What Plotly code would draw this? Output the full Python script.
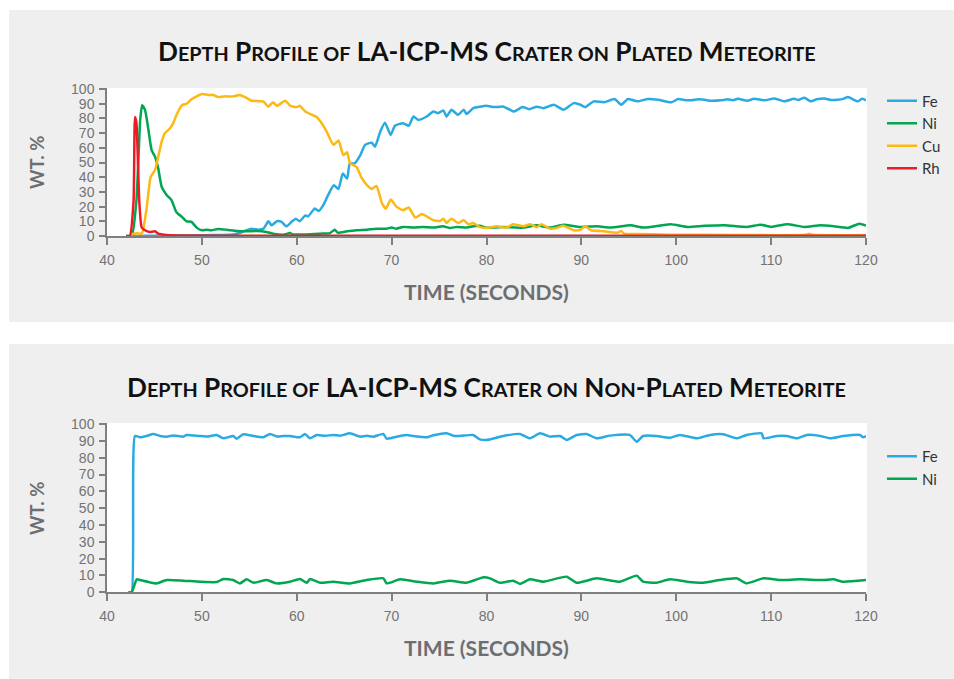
import plotly.graph_objects as go

# ---------------- Panel 1: plated meteorite ----------------
fe1_t = [42.0, 42.5, 43.0, 44.0, 45.0, 46.0, 47.0, 48.0, 49.0, 50.0, 51.0, 52.0, 53.3, 54.0, 54.7, 55.25,
         55.95, 56.5, 57.0, 57.35, 57.9, 58.4, 58.9, 59.5, 59.9, 60.3, 60.9, 61.2, 61.9, 62.3, 62.8, 63.3,
         63.9, 64.4, 64.85, 65.3, 65.6, 66.1, 66.7, 67.2, 67.9, 68.25, 68.8, 69.3, 69.9, 70.35, 71.2, 71.8,
         72.3, 72.8, 73.7, 74.4, 74.9, 75.45, 75.8, 76.3, 77.0, 77.6, 77.9, 78.6, 79.3, 80.0, 80.8, 81.8,
         82.9, 83.8, 84.5, 85.3, 86.0, 87.1, 88.1, 89.2, 89.9, 90.4, 91.3, 92.4, 93.5, 94.2, 94.9, 95.9,
         97.0, 98.1, 99.5, 100.2, 100.8, 101.6, 102.3, 103.0, 103.6, 104.7, 105.4, 106.0, 106.5, 107.5,
         108.2, 109.3, 110.3, 110.8, 111.4, 112.4, 112.9, 113.5, 114.2, 114.8, 115.6, 116.3, 117.0, 117.6,
         118.1, 119.1, 119.6, 120.0]
fe1_v = [0, 0, 0, 0.1, 0.1, 0.2, 0.3, 0.3, 0.4, 0.5, 0.6, 0.7, 1.0, 2.0, 4.0, 5.0,
         4.3, 5.0, 10.0, 7.3, 10.0, 9.6, 6.6, 10.0, 11.8, 10.0, 14.0, 13.4, 18.7, 17.0, 21.0, 27.8,
         34.6, 32.0, 42.6, 39.0, 49.4, 49.4, 55.0, 62.0, 63.5, 60.8, 71.0, 77.0, 68.8, 75.0, 76.8, 75.0,
         81.3, 79.0, 81.3, 84.7, 83.6, 85.4, 81.3, 85.9, 82.5, 85.9, 83.0, 87.0, 88.0, 88.6, 87.7, 88.0,
         84.7, 87.7, 86.3, 88.0, 87.0, 89.3, 85.9, 90.4, 89.3, 87.7, 91.6, 91.0, 93.2, 89.3, 93.2, 91.6,
         93.2, 92.7, 91.0, 93.2, 92.6, 92.3, 93.0, 92.7, 92.0, 92.3, 93.0, 92.4, 93.4, 92.0,
         93.4, 92.3, 93.6, 92.8, 91.6, 93.4, 92.6, 94.0, 91.6, 93.0, 93.6, 92.5, 92.7, 93.3,
         94.5, 91.6, 93.4, 92.3]

ni1_t = [42.0, 42.6, 43.1, 43.5, 43.7, 44.0, 44.35, 44.7, 45.06, 45.4, 45.76, 46.3, 46.8, 47.3, 47.9,
         48.4, 48.9, 49.45, 50.0, 50.5, 51.0, 51.7, 52.6, 53.7, 54.7, 55.8, 56.8, 57.5, 58.6, 59.3, 59.6,
         61.0, 62.45, 63.5, 64.0, 64.3, 65.3, 66.3, 67.4, 68.4, 69.5, 70.0, 70.5, 71.2, 72.3, 73.3, 74.4,
         75.4, 76.1, 76.9, 77.9, 78.6, 79.3, 80.0, 81.8, 83.9, 85.3, 86.7, 88.1, 89.9, 91.7, 93.1, 95.2,
         96.6, 99.4, 101.2, 103.0, 105.1, 107.5, 108.9, 110.0, 111.7, 113.5, 115.2, 116.6, 118.1, 119.3,
         120.0]
ni1_v = [0, 0, 24, 79, 89, 86, 73, 58.5, 54, 46, 33.5, 27.8, 24.4, 16.4, 13,
         10, 9.6, 5.7, 3.9, 4.3, 3.9, 4.8, 4.3, 3.4, 3.2, 3.4, 2.7, 1.6, 0.9, 2.0, 1.1,
         1.1, 1.6, 2.0, 4.3, 2.3, 3.2, 3.9, 4.3, 5.0, 5.0, 5.7, 5.0, 6.2, 5.7, 6.2, 5.7,
         6.6, 5.5, 6.2, 5.7, 6.6, 7.0, 5.7, 6.2, 5.7, 7.3, 5.7, 7.7, 6.2, 6.6, 5.7, 7.3,
         5.7, 8.0, 6.2, 6.9, 7.3, 6.2, 7.7, 6.2, 8.0, 6.2, 7.3, 6.6, 5.5, 8.4,
         7.0]

cu1_t = [42.0, 42.25, 42.8, 43.2, 43.65, 43.8, 44.2, 44.6, 45.06, 45.4, 45.8, 46.1, 46.6, 47.0, 47.3,
         47.9, 48.4, 48.9, 49.45, 50.0, 50.7, 51.2, 51.7, 52.3, 53.3, 54.0, 54.7, 55.25, 56.5, 57.0, 57.5,
         57.9, 58.8, 59.3, 60.0, 60.3, 60.9, 61.6, 62.1, 62.6, 63.15, 63.86, 64.4, 64.9, 65.3, 65.6, 66.3,
         66.8, 67.4, 67.9, 68.4, 69.0, 69.4, 69.9, 70.5, 71.2, 71.8, 72.5, 73.2, 73.9, 74.4, 75.1, 75.45,
         75.8, 76.3, 77.0, 77.6, 78.1, 78.6, 79.3, 80.0, 81.1, 82.1, 82.8, 83.9, 84.6, 85.3, 85.8, 86.7,
         87.4, 88.1, 89.2, 89.9, 90.4, 91.0, 92.4, 93.8, 94.2, 94.5, 95.9, 99.4, 106.5, 113.6, 114.0, 114.4,
         120.0]
cu1_v = [0, 0, 1.5, 1.8, 1.5, 4, 20, 40, 45, 54, 65, 70, 73, 77, 82,
         89, 90, 93, 95, 96.6, 96, 96, 94.5, 95, 95, 96, 94, 92, 91.5, 88, 91,
         88.6, 92, 88.6, 87.7, 88.6, 84.7, 82.5, 81, 77, 71, 62, 65, 55, 57, 49.6, 47,
         40, 34.6, 32, 34, 22, 18.7, 24.8, 20, 17.5, 19.4, 12.5, 15, 12.5, 10.7, 10.2, 11.8,
         8.9, 11.8, 8.9, 10.7, 8, 8.9, 6, 5.5, 6.6, 5.7, 8, 6.6, 8, 6, 8, 5,
         5.5, 7, 3.9, 4.3, 6.6, 3.9, 3.2, 2.3, 3.4, 1.6, 1.4, 0.9, 0.7, 0.8, 1.6, 0.8,
         0.7]

rh1_t = [42.0, 42.4, 42.8, 42.95, 43.1, 43.4, 43.65, 44.0, 44.5, 45.06, 45.4, 46.3, 48.0, 55.0, 70.0, 120.0]
rh1_v = [0, 0, 24, 81, 77, 24, 6, 3.9, 2.7, 3.2, 1.6, 0.7, 0.3, 0.2, 0.2, 0.2]

# ---------------- Panel 2: non-plated meteorite ----------------
fe2_t = [42.25, 42.6, 42.95, 43.48, 44.18, 44.88, 45.59, 46.29, 47.0, 48.05, 48.4, 49.8, 50.7, 51.56,
         52.26, 53.3, 53.67, 54.37, 55.42, 56.48, 57.18, 57.9, 58.59, 59.29, 60.34, 60.87, 61.4, 62.1,
         63.0, 63.86, 64.6, 65.6, 66.67, 67.4, 68.07, 69.13, 69.48, 70.89, 71.6, 72.29, 73.7, 74.4, 75.8,
         76.5, 77.2, 78.6, 79.3, 80.0, 81.77, 83.53, 84.58, 85.64, 86.69, 87.75, 88.45, 89.5, 90.56,
         91.6, 93.0, 95.1, 95.83, 96.5, 97.9, 99.34, 100.4, 102.15, 103.56, 104.96, 106.37, 107.4, 109.0,
         109.2, 110.6, 111.64, 112.7, 113.75, 115.15, 116.2, 117.6, 119.37, 119.7, 120.0]
fe2_v = [0, 0, 92.9, 92.1, 92.9, 94.1, 92.9, 92.5, 93.2, 92.5, 93.5, 92.9, 92.6, 93.5,
         91.5, 92.9, 91.3, 93.9, 92.9, 92.1, 94.1, 92.6, 92.9, 92.9, 92.1, 94.1, 91.5, 93.5,
         93.0, 93.5, 93.0, 94.5, 92.5, 93.0, 92.5, 94.1, 91.3, 92.9, 93.4, 92.9, 92.1, 93.3, 94.5,
         93.0, 92.9, 93.5, 90.9, 90.5, 92.9, 94.1, 91.5, 94.5, 92.5, 92.9, 90.5, 93.5, 94.1,
         91.5, 93.1, 93.5, 89.5, 92.9, 92.9, 91.9, 93.5, 91.5, 93.5, 93.9, 91.5, 93.5, 94.5,
         91.5, 92.9, 92.9, 91.5, 93.5, 92.9, 91.5, 92.9, 93.5, 92.1, 92.9]

ni2_t = [42.25, 42.6, 43.13, 43.48, 44.53, 45.24, 46.29, 48.05, 49.8, 51.56, 52.26, 53.3, 54.0, 54.72,
         55.42, 56.83, 57.88, 59.29, 60.34, 61.05, 61.4, 62.45, 63.86, 65.6, 67.37, 69.13, 69.48, 70.89,
         72.64, 74.4, 76.16, 77.9, 79.3, 79.7, 80.37, 81.42, 82.83, 83.53, 84.58, 86.0, 88.45, 89.5, 91.6,
         94.07, 95.83, 96.5, 97.9, 99.34, 101.1, 102.86, 104.6, 106.37, 107.4, 109.2, 110.9, 113.0, 115.5,
         116.56, 117.6, 120.0]
ni2_v = [0, 0, 7.7, 7.3, 5.9, 5.3, 7.3, 6.9, 6.3, 6.1, 7.9, 7.3, 5.3, 7.7,
         5.7, 7.3, 5.3, 6.3, 7.9, 5.7, 7.9, 5.7, 6.3, 5.3, 7.3, 8.3, 5.3, 7.7,
         6.3, 5.3, 6.9, 5.7, 8.3, 8.9, 8.3, 5.7, 6.9, 5.0, 7.7, 6.3, 9.3, 5.7, 8.3,
         6.3, 9.9, 6.3, 5.7, 7.7, 6.3, 5.7, 7.3, 8.3, 5.3, 8.3, 7.3, 7.7, 7.3,
         7.7, 6.3, 7.3]

x_ticks = [40, 50, 60, 70, 80, 90, 100, 110, 120]
y_ticks = [0, 10, 20, 30, 40, 50, 60, 70, 80, 90, 100]

SC = "<span style='font-size:19.8px'>%s</span>"
title1 = ("D" + SC % "EPTH" + " P" + SC % "ROFILE OF" + " LA-ICP-MS C" + SC % "RATER ON" +
          " P" + SC % "LATED" + " M" + SC % "ETEORITE")
title2 = ("D" + SC % "EPTH" + " P" + SC % "ROFILE OF" + " LA-ICP-MS C" + SC % "RATER ON" +
          " N" + SC % "ON" + "-P" + SC % "LATED" + " M" + SC % "ETEORITE")

COL = {'Fe': '#29abe2', 'Ni': '#00a651', 'Cu': '#fdb913', 'Rh': '#ed1c24'}
W, H = 954, 679

fig = go.Figure()
for name, t, v in [('Fe', fe1_t, fe1_v), ('Ni', ni1_t, ni1_v), ('Cu', cu1_t, cu1_v), ('Rh', rh1_t, rh1_v)]:
    fig.add_trace(go.Scatter(x=t, y=v, mode='lines', name=name, xaxis='x', yaxis='y', legend='legend',
                             line=dict(color=COL[name], width=2.5, shape='spline', smoothing=0.5)))
for name, t, v in [('Fe', fe2_t, fe2_v), ('Ni', ni2_t, ni2_v)]:
    fig.add_trace(go.Scatter(x=t, y=v, mode='lines', name=name, xaxis='x2', yaxis='y2', legend='legend2',
                             line=dict(color=COL[name], width=2.5, shape='spline', smoothing=0.5)))

def px_x(p):
    return p / W

def px_y(p):
    return 1 - p / H

axis_common = dict(showgrid=False, zeroline=False, showline=True, linecolor='#808080', linewidth=1.5,
                   ticks='outside', tickcolor='#808080', tickwidth=1.5,
                   tickfont=dict(family='Liberation Sans, Arial, sans-serif', size=14, color='#737373'))

legend_font = dict(family='Lato, sans-serif', size=15, color='#333333')

fig.update_layout(
    width=W, height=H, margin=dict(l=0, r=0, t=0, b=0, autoexpand=False),
    paper_bgcolor='white', plot_bgcolor='rgba(0,0,0,0)',
    showlegend=True,
    xaxis=dict(domain=[px_x(107), px_x(866)], range=[40, 120], tickvals=x_ticks, ticklen=7,
               ticklabelstandoff=3, anchor='y', **axis_common),
    yaxis=dict(domain=[px_y(236), px_y(88)], range=[0, 100.7], tickvals=y_ticks, ticklen=6,
               ticklabelstandoff=2, anchor='x', **axis_common),
    xaxis2=dict(domain=[px_x(107), px_x(866)], range=[40, 120], tickvals=x_ticks, ticklen=7,
                ticklabelstandoff=3, anchor='y2', **axis_common),
    yaxis2=dict(domain=[px_y(592.3), px_y(423)], range=[0, 100.6], tickvals=y_ticks, ticklen=6,
                ticklabelstandoff=2, anchor='x2', **axis_common),
    legend=dict(x=px_x(882), y=px_y(84.5), xanchor='left', yanchor='top', bgcolor='rgba(0,0,0,0)',
                font=legend_font, tracegroupgap=0),
    legend2=dict(x=px_x(882), y=px_y(440), xanchor='left', yanchor='top', bgcolor='rgba(0,0,0,0)',
                 font=legend_font, tracegroupgap=0),
    shapes=[
        dict(type='rect', xref='paper', yref='paper', x0=px_x(9), x1=1, y0=px_y(322), y1=px_y(10),
             fillcolor='#efefef', line=dict(width=0), layer='below'),
        dict(type='rect', xref='paper', yref='paper', x0=px_x(9), x1=1, y0=0, y1=px_y(344),
             fillcolor='#efefef', line=dict(width=0), layer='below'),
        dict(type='rect', xref='paper', yref='paper', x0=px_x(107), x1=px_x(867), y0=px_y(236), y1=px_y(88),
             fillcolor='white', line=dict(width=0), layer='below'),
        dict(type='rect', xref='paper', yref='paper', x0=px_x(107), x1=px_x(867), y0=px_y(592.3), y1=px_y(423),
             fillcolor='white', line=dict(width=0), layer='below'),
    ],
    annotations=[
        dict(text='<b>' + title1 + '</b>', x=px_x(486.5), y=px_y(51), xref='paper', yref='paper',
             xanchor='center', yanchor='middle', showarrow=False,
             font=dict(family='Lato, sans-serif', size=26.2, color='#111111')),
        dict(text='<b>' + title2 + '</b>', x=px_x(486.5), y=px_y(387), xref='paper', yref='paper',
             xanchor='center', yanchor='middle', showarrow=False,
             font=dict(family='Lato, sans-serif', size=26.2, color='#111111')),
        dict(text='<b>WT. %</b>', x=px_x(37), y=px_y(163), xref='paper', yref='paper', textangle=-90,
             xanchor='center', yanchor='middle', showarrow=False,
             font=dict(family='Lato, sans-serif', size=18.5, color='#6d6e71')),
        dict(text='<b>WT. %</b>', x=px_x(37), y=px_y(509), xref='paper', yref='paper', textangle=-90,
             xanchor='center', yanchor='middle', showarrow=False,
             font=dict(family='Lato, sans-serif', size=18.5, color='#6d6e71')),
        dict(text='<b>TIME (SECONDS)</b>', x=px_x(487), y=px_y(291), xref='paper', yref='paper',
             xanchor='center', yanchor='middle', showarrow=False,
             font=dict(family='Lato, sans-serif', size=21, color='#6d6e71')),
        dict(text='<b>TIME (SECONDS)</b>', x=px_x(487), y=px_y(647), xref='paper', yref='paper',
             xanchor='center', yanchor='middle', showarrow=False,
             font=dict(family='Lato, sans-serif', size=21, color='#6d6e71')),
    ],
)

fig.write_html('out.html')
